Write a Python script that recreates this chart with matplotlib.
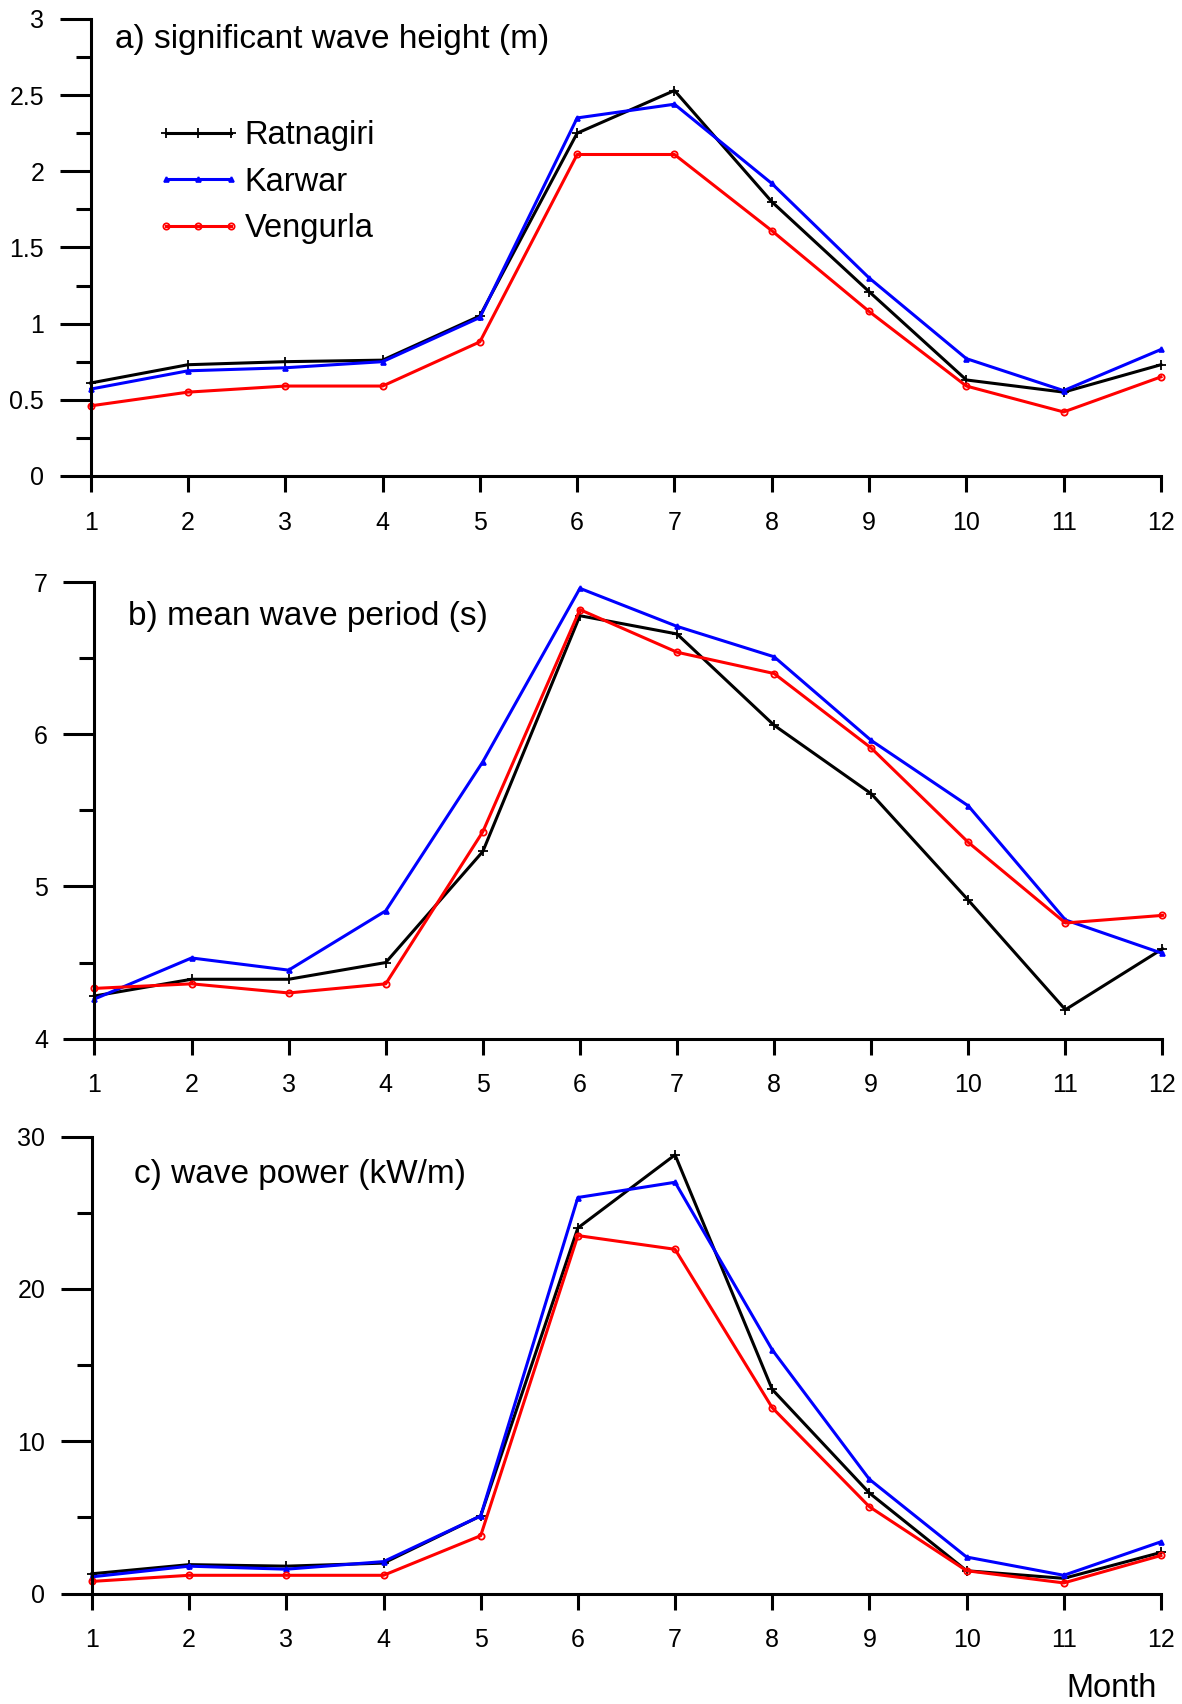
import matplotlib
matplotlib.use('Agg')
import matplotlib.pyplot as plt
import numpy as np

plt.rcParams['font.family'] = ['Liberation Sans', 'DejaVu Sans']

months = np.arange(1, 13)

# significant wave height (m)
hs_ratnagiri = [0.61, 0.73, 0.75, 0.76, 1.05, 2.25, 2.53, 1.80, 1.21, 0.63, 0.55, 0.73]
hs_karwar = [0.57, 0.69, 0.71, 0.75, 1.04, 2.35, 2.44, 1.92, 1.30, 0.77, 0.56, 0.83]
hs_vengurla = [0.46, 0.55, 0.59, 0.59, 0.88, 2.11, 2.11, 1.61, 1.08, 0.59, 0.42, 0.65]

# mean wave period (s)
tm_ratnagiri = [4.28, 4.39, 4.39, 4.50, 5.23, 6.78, 6.66, 6.06, 5.61, 4.91, 4.19, 4.59]
tm_karwar = [4.26, 4.53, 4.45, 4.84, 5.82, 6.96, 6.71, 6.51, 5.96, 5.53, 4.78, 4.56]
tm_vengurla = [4.33, 4.36, 4.30, 4.36, 5.36, 6.82, 6.54, 6.40, 5.91, 5.29, 4.76, 4.81]

# wave power (kW/m)
wp_ratnagiri = [1.3, 1.9, 1.8, 2.0, 5.1, 24.0, 28.8, 13.4, 6.6, 1.5, 1.0, 2.7]
wp_karwar = [1.1, 1.8, 1.6, 2.1, 5.1, 26.0, 27.0, 16.0, 7.5, 2.4, 1.2, 3.4]
wp_vengurla = [0.8, 1.2, 1.2, 1.2, 3.8, 23.5, 22.6, 12.2, 5.7, 1.5, 0.7, 2.5]

stations = ['Ratnagiri', 'Karwar', 'Vengurla']
colors = ['black', 'blue', 'red']
markers = ['+', '^', 'o']
msizes = [7, 3.5, 4.5]

panels = [
    dict(series=[hs_ratnagiri, hs_karwar, hs_vengurla], ylim=(0, 3), major=0.5, minor=0.25,
         title='a) significant wave height (m)', tpos=(0.0227, 0.9365),
         rect=[0.0767, 0.7207, 0.9055, 0.2682]),
    dict(series=[tm_ratnagiri, tm_karwar, tm_vengurla], ylim=(4, 7), major=1, minor=0.5,
         title='b) mean wave period (s)', tpos=(0.0314, 0.9064),
         rect=[0.0799, 0.3905, 0.9036, 0.2678]),
    dict(series=[wp_ratnagiri, wp_karwar, wp_vengurla], ylim=(0, 30), major=10, minor=5,
         title='c) wave power (kW/m)', tpos=(0.0393, 0.898),
         rect=[0.0778, 0.0648, 0.9044, 0.2682]),
]

fig = plt.figure(figsize=(11.82, 17.04), dpi=100)

for i, p in enumerate(panels):
    ax = fig.add_axes(p['rect'])
    for vals, name, c, m, ms in zip(p['series'], stations, colors, markers, msizes):
        mfc = 'none' if m == 'o' else c
        ax.plot(months, vals, color=c, lw=2.2, marker=m, ms=ms,
                mfc=mfc, mec=c, mew=1.3, label=name, clip_on=False)

    ax.set_xlim(1, 12)
    ax.set_ylim(*p['ylim'])
    ax.set_xticks(months)
    lo, hi = p['ylim']
    ax.set_yticks(np.arange(lo, hi + p['major'] / 2, p['major']))
    ax.set_yticks(np.arange(lo, hi + p['minor'] / 2, p['minor']), minor=True)
    ax.set_yticklabels(['{:g}'.format(v) for v in ax.get_yticks()])

    for side in ('top', 'right'):
        ax.spines[side].set_visible(False)
    for side in ('left', 'bottom'):
        ax.spines[side].set_linewidth(2.2)

    ax.tick_params(axis='y', which='major', length=22, width=2.2, pad=11.5, labelsize=18)
    ax.tick_params(axis='y', which='minor', length=10.6, width=2.2)
    ax.tick_params(axis='x', which='major', length=11.5, width=2.2, pad=13.5, labelsize=18)

    ax.text(p['tpos'][0], p['tpos'][1], p['title'], transform=ax.transAxes,
            fontsize=24, ha='left', va='baseline')

    if i == 0:
        ax.legend(loc='upper left', bbox_to_anchor=(0.061, 0.778), frameon=False,
                  fontsize=23.5, handlelength=2.6, handletextpad=0.12, labelspacing=0.47,
                  numpoints=3, borderpad=0, borderaxespad=0)

fig.text(0.9789, 0.0041, 'Month', ha='right', va='baseline', fontsize=23.5)

fig.savefig('out.png', dpi=100)
